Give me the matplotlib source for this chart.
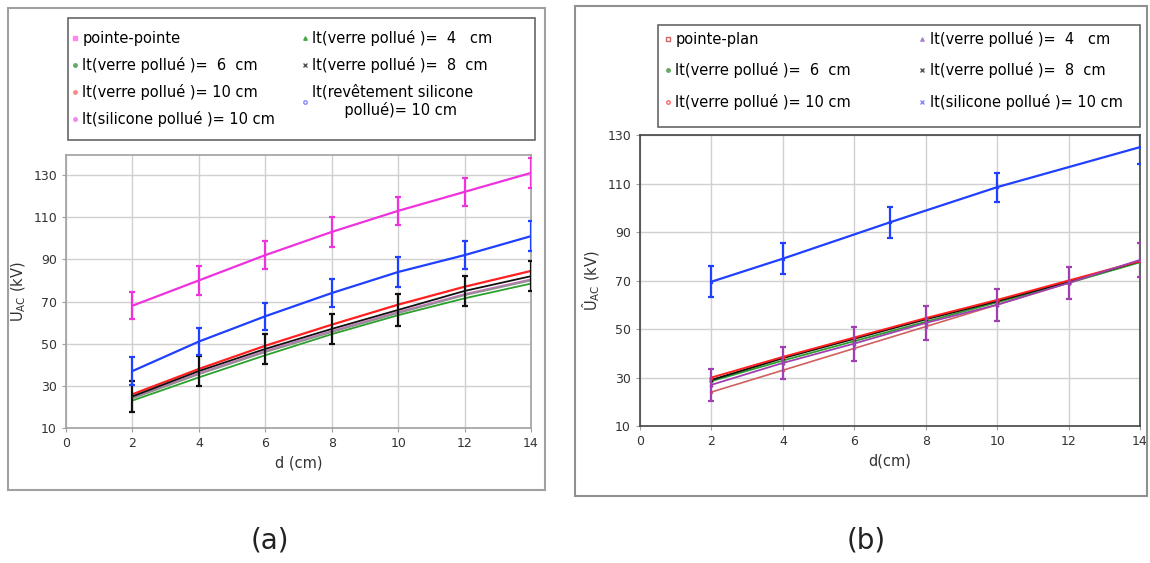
import matplotlib
matplotlib.use("Agg")
import matplotlib.pyplot as plt
from matplotlib.lines import Line2D
from matplotlib.patches import Rectangle

plt.rcParams['font.family'] = ['DejaVu Sans']

# ---- panel (a): pointe-pointe configuration ----
d_a = [2, 4, 6, 8, 10, 12, 14]
pp_a = [68, 80, 92, 103, 113, 122, 131]
pp_err = [6.5, 7, 6.5, 7, 6.5, 6.5, 7]
rev_sil_a = [37, 51, 63, 74, 84, 92, 101]
rev_err = [6.5, 6.5, 6.5, 6.5, 7, 6.5, 7]
verre10_a = [26, 38, 49, 59, 68.5, 77, 84.5]
verre8_a = [25, 37, 47.5, 57, 66, 75, 82]
verre8_err = [7.5, 7, 7, 7, 7.5, 7, 7]
verre6_a = [24, 35.5, 46, 55.5, 64.5, 73, 80]
sil10_a = [24.5, 36, 46.5, 56, 65, 73.5, 80.5]
verre4_a = [23, 34, 44.5, 54.5, 63.5, 71.5, 78.5]

# ---- panel (b): pointe-plan configuration ----
d_b = [2, 4, 6, 8, 10, 12, 14]
pplan_b = [24, 33, 42, 51, 60, 69, 78]
verre4_b = [27, 36, 44, 52.5, 60, 69, 78.5]
verre4_err = [6.5, 6.5, 7, 7, 6.5, 6.5, 7]
verre6_b = [28.5, 37, 45, 53, 61, 69, 77.5]
verre8_b = [29, 38, 46, 54, 61.5, 69.5, 78]
verre10_b = [30, 38.5, 46.5, 54.5, 62, 70, 78]
d_sil_b = [2, 4, 7, 10, 14]
sil10_b = [69.5, 79, 94, 108.5, 125]
sil10_err = [6.5, 6.5, 6.5, 6, 7]

x_ticks = [0, 2, 4, 6, 8, 10, 12, 14]
y_ticks = [10, 30, 50, 70, 90, 110, 130]

labels_a = ["pointe-pointe",
            "lt(verre pollué )=  6  cm",
            "lt(verre pollué )= 10 cm",
            "lt(silicone pollué )= 10 cm",
            "lt(verre pollué )=  4   cm",
            "lt(verre pollué )=  8  cm",
            "lt(revêtement silicone\n       pollué)= 10 cm"]
labels_b = ["pointe-plan",
            "lt(verre pollué )=  6  cm",
            "lt(verre pollué )= 10 cm",
            "lt(verre pollué )=  4   cm",
            "lt(verre pollué )=  8  cm",
            "lt(silicone pollué )= 10 cm"]

W, H = 1150, 563
fig = plt.figure(figsize=(W / 100, H / 100), dpi=100)


def px_rect(x0, y0, x1, y1, color, lw):
    """Rectangle given in pixel coordinates measured from the top-left corner."""
    fig.patches.append(Rectangle((x0 / W, 1 - y1 / H), (x1 - x0) / W, (y1 - y0) / H,
                                 transform=fig.transFigure, fill=False,
                                 edgecolor=color, linewidth=lw, zorder=0))


# panel frames and legend boxes
px_rect(8, 8, 545, 490, '#a0a0a0', 1.5)
px_rect(575, 6, 1147, 496, '#909090', 1.5)
px_rect(68, 18, 535, 140, '#666666', 1.2)
px_rect(658, 25, 1140, 127, '#666666', 1.2)


def style_axes(ax, ylim, spine_color):
    ax.set_xlim(0, 14)
    ax.set_ylim(*ylim)
    ax.set_xticks(x_ticks)
    ax.set_yticks(y_ticks)
    ax.grid(True, color='#d0d0d0', linewidth=1.0)
    ax.set_axisbelow(True)
    for s in ax.spines.values():
        s.set_color(spine_color)
        s.set_linewidth(1.2)
    ax.tick_params(labelsize=9, length=3, color='#a0a0a0', colors='#333333')


# ---- axes (a) ----
axa = fig.add_axes([0.0574, 0.2398, 0.4043, 0.4849])
style_axes(axa, (10, 139.5), '#a0a0a0')

eb = dict(capsize=2, elinewidth=1.6, capthick=1.6)
axa.plot(d_a, verre4_a, color='#2ca02c', lw=1.3, zorder=3)
axa.plot(d_a, sil10_a, color='#d070c0', lw=1.3, zorder=3)
axa.plot(d_a, verre6_a, color='#909090', lw=1.3, zorder=3)
axa.plot(d_a, verre10_a, color='#ff2020', lw=1.6, zorder=4)
axa.errorbar(d_a, verre8_a, yerr=verre8_err, color='#111111', lw=1.3, zorder=5, **eb)
axa.errorbar(d_a, rev_sil_a, yerr=rev_err, color='#2040ff', lw=1.6, zorder=5, **eb)
axa.errorbar(d_a, pp_a, yerr=pp_err, color='#ee33dd', lw=1.6, zorder=5, **eb)

axa.set_xlabel("d (cm)", fontsize=10.5, color='#333333', labelpad=4)
axa.set_ylabel("Û$_{\\mathregular{AC}}$ (kV)", fontsize=10.5, color='#333333', labelpad=4)

handles_a = [
    Line2D([], [], ls='none', marker='s', ms=2.5, color='#ff88ee'),
    Line2D([], [], ls='none', marker='o', ms=2.5, color='#66aa66'),
    Line2D([], [], ls='none', marker='o', ms=2.5, color='#ff8888'),
    Line2D([], [], ls='none', marker='o', ms=2.5, color='#ee88ee'),
    Line2D([], [], ls='none', marker='^', ms=2.5, color='#44aa44'),
    Line2D([], [], ls='none', marker='x', ms=2.5, color='#555555'),
    Line2D([], [], ls='none', marker='o', ms=2.5, mfc='none', color='#8888ff'),
]
fig.legend(handles_a, labels_a, ncol=2, loc='upper left',
           bbox_to_anchor=(72 / W, 1 - 30 / H), frameon=False,
           fontsize=10.5, handlelength=0.4, handletextpad=0.3,
           labelspacing=0.75, borderaxespad=0, borderpad=0, columnspacing=1.85)

# ---- axes (b) ----
axb = fig.add_axes([0.5565, 0.2433, 0.4348, 0.5169])
style_axes(axb, (10, 130), '#444444')

axb.plot(d_b, pplan_b, color='#d06060', lw=1.2, marker='s', ms=2, mfc='none', zorder=3)
axb.plot(d_b, verre6_b, color='#2ca02c', lw=1.3, marker='o', ms=2, zorder=3)
axb.plot(d_b, verre8_b, color='#111111', lw=1.4, marker='x', ms=2, zorder=4)
axb.plot(d_b, verre10_b, color='#ff2020', lw=1.4, marker='o', ms=2, mfc='none', zorder=4)
axb.errorbar(d_b, verre4_b, yerr=verre4_err, color='#a040b0', lw=1.3, marker='^', ms=2,
             zorder=5, **eb)
axb.errorbar(d_sil_b, sil10_b, yerr=sil10_err, color='#2040ff', lw=1.6, marker='x', ms=2,
             zorder=5, **eb)

axb.set_xlabel("d(cm)", fontsize=10.5, color='#333333', labelpad=4)
axb.set_ylabel("Û$_{\\mathregular{AC}}$ (kV)", fontsize=10.5, color='#333333', labelpad=4)

handles_b = [
    Line2D([], [], ls='none', marker='s', ms=3, mfc='none', color='#cc6666'),
    Line2D([], [], ls='none', marker='o', ms=2.5, color='#66aa66'),
    Line2D([], [], ls='none', marker='o', ms=2.5, mfc='none', color='#ff6666'),
    Line2D([], [], ls='none', marker='^', ms=2.5, color='#aa88cc'),
    Line2D([], [], ls='none', marker='x', ms=2.5, color='#555555'),
    Line2D([], [], ls='none', marker='x', ms=3, color='#8888ff'),
]
fig.legend(handles_b, labels_b, ncol=2, loc='upper left',
           bbox_to_anchor=(665 / W, 1 - 31 / H), frameon=False,
           fontsize=10.5, handlelength=0.4, handletextpad=0.3,
           labelspacing=1.05, borderaxespad=0, borderpad=0, columnspacing=4.7)

fig.text(0.235, 0.04, "(a)", fontsize=20, ha='center', va='center', color='#222222')
fig.text(0.753, 0.04, "(b)", fontsize=20, ha='center', va='center', color='#222222')

fig.savefig("out.png", dpi=100, facecolor='white')
